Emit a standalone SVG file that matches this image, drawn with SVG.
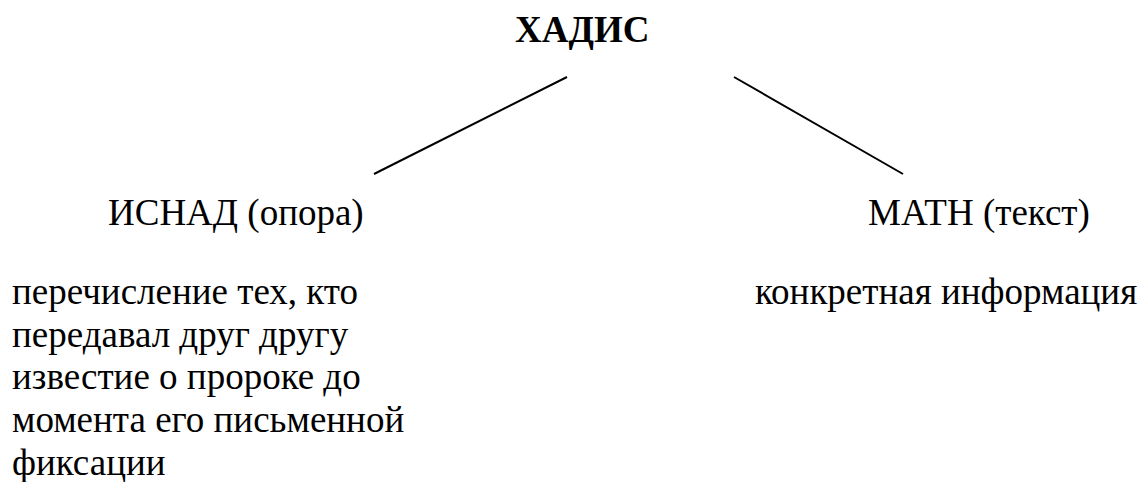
<svg xmlns="http://www.w3.org/2000/svg" width="1147" height="482" viewBox="0 0 1147 482" font-family="Liberation Serif, Times New Roman, serif" font-size="37">
<style>
.b{font-weight:bold}
.c{stroke:#000;stroke-width:2;fill:none}
</style>
<rect width="1147" height="482" fill="#fff"/>
<g id="connectors">
<line class="c" x1="567" y1="77" x2="374" y2="174"/>
<line class="c" x1="734" y1="77" x2="903" y2="174"/>
</g>
<g id="hadith"><text class="b" x="515" y="42" font-family="Liberation Serif" font-weight="bold">ХАДИС</text></g>
<g id="isnad"><text x="108" y="225" font-family="Liberation Serif">ИСНАД (опора)</text></g>
<g id="matn"><text x="868" y="225" font-family="Liberation Serif">МАТН (текст)</text></g>
<g id="isnad-desc" font-family="Liberation Serif">
<text x="12" y="304">перечисление тех, кто</text>
<text x="12" y="347">передавал друг другу</text>
<text x="12" y="389">известие о пророке до</text>
<text x="12" y="432">момента его письменной</text>
<text x="12" y="475">фиксации</text>
</g>
<g id="matn-desc"><text x="755" y="304" font-family="Liberation Serif">конкретная информация</text></g>
</svg>
